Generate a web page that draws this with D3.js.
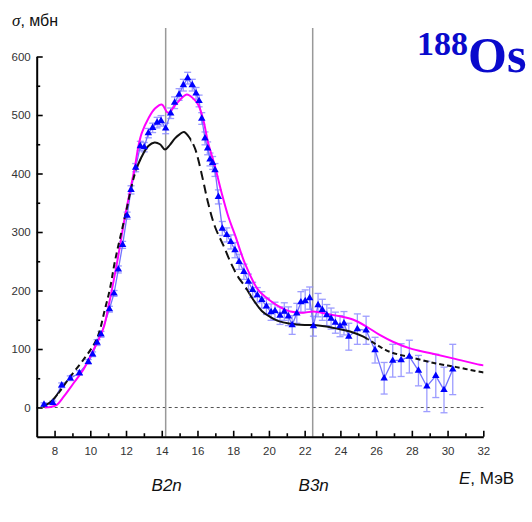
<!DOCTYPE html>
<html>
<head>
<meta charset="utf-8">
<script src="https://cdn.jsdelivr.net/npm/d3@7"></script>
<style>
  html, body { margin: 0; padding: 0; background: #fff; }
  svg { display: block; }
  .tick text { font-family: "Liberation Sans", Arial, sans-serif; font-size: 11.5px; fill: #333; }
</style>
</head>
<body>
<svg id="chart" width="532" height="522"></svg>
<script>
// Photoneutron cross section of 188Os: experimental points with uncertainties
const expEnergy = [7.41, 7.9, 8.4, 8.88, 9.39, 9.89, 10.13, 10.38, 10.6, 11.07, 11.33, 11.57, 11.81, 12.06,
  12.28, 12.54, 12.8, 13.02, 13.25, 13.49, 13.74, 13.96, 14.22, 14.5, 14.72, 14.97, 15.21, 15.45, 15.71,
  15.92, 16.09, 16.24, 16.42, 16.57, 16.7, 16.85, 16.98, 17.17, 17.39, 17.64, 17.87, 18.1, 18.33, 18.6,
  18.85, 19.09, 19.35, 19.6, 19.86, 20.12, 20.34, 20.62, 20.86, 21.09, 21.3, 21.56, 21.79, 22.03, 22.28,
  22.49, 22.75, 22.99, 23.24, 23.48, 23.72, 23.98, 24.2, 24.47, 24.95, 25.44, 25.94, 26.45, 26.93, 27.4,
  27.86, 28.37, 28.84, 29.34, 29.8, 30.29];
const expSigma = [5, 8, 38, 50, 59, 78, 91, 111, 125, 168, 195, 236, 278, 328,
  372, 410, 447, 445, 469, 478, 487, 490, 477, 503, 521, 535, 551, 563, 551,
  537, 524, 494, 460, 443, 424, 418, 406, 360, 306, 295, 283, 269, 249, 232,
  215, 201, 192, 184, 173, 163, 165, 157, 164, 156, 141, 161, 180, 182, 187,
  139, 175, 167, 158, 152, 145, 139, 144, 121, 134, 132, 98, 50, 80, 81,
  87, 63, 36, 54, 30, 65];
const expError = [3, 3, 4, 4, 4, 4, 4, 5, 5, 5, 5, 6, 6, 6,
  7, 7, 8, 8, 8, 8, 9, 9, 9, 9, 10, 10, 10, 10, 10,
  10, 10, 10, 11, 11, 11, 11, 11, 12, 12, 12, 12, 13, 13, 13,
  13, 13, 13, 14, 14, 14, 15, 15, 15, 16, 16, 17, 18, 19, 19,
  17, 20, 18, 18, 18, 18, 18, 20, 23, 26, 24, 22, 27, 28, 28,
  28, 26, 43, 37, 39, 43];

// Model curve (magenta)
const magentaEnergy = [7.45, 7.8, 8.1, 8.5, 9.05, 9.6, 10.17, 10.73, 11.0, 11.5, 11.94, 12.5, 12.69, 12.88,
  13.25, 13.62, 14.0, 14.35, 14.84, 15.4, 15.77, 16.05, 16.33, 16.6, 16.98, 17.36, 17.73, 18.1, 18.66,
  19.4, 20.06, 20.6, 21.2, 21.9, 22.5, 23.24, 23.98, 24.73, 25.48, 26.2, 26.97, 27.9, 29.0, 30.3, 31.8, 32.0];
const magentaSigma = [0, 1, 4, 18, 41, 64, 98, 135, 170, 248, 326, 412, 446, 469,
  494, 511, 518, 504, 520, 535, 528, 517, 491, 452, 412, 366, 326, 295, 246,
  201, 183, 172, 164, 162, 164, 160, 156, 150, 138, 124, 112, 101, 93, 84, 73, 72];

// Model curve (black)
const blackEnergy = [7.35, 7.8, 8.3, 8.86, 9.6, 10.36, 10.82, 11.1, 11.38, 11.94, 12.5, 12.88, 13.25, 13.6,
  13.9, 14.18, 14.46, 14.74, 15.0, 15.25, 15.58, 15.86, 16.05, 16.33, 16.6, 16.98, 17.45, 17.9, 18.3,
  18.66, 19.04, 19.6, 20.06, 20.5, 21.2, 22.0, 22.5, 23.1, 23.8, 24.54, 25.29, 26.04, 26.78, 27.9, 29.4,
  30.5, 31.8, 32.0];
const blackSigma = [2, 10, 28, 52, 81, 117, 168, 203, 250, 326, 400, 429, 447, 453,
  450, 441, 449, 460, 467, 471, 460, 443, 423, 386, 349, 309, 277, 245, 222,
  207, 188, 165, 155, 148, 143, 141, 141, 139, 135, 130, 121, 107, 95, 86, 75,
  69, 61, 60];

// Neutron separation thresholds
const thresholdLabels = ["B2n", "B3n"];
const thresholdEnergy = [14.22, 22.45];

// Axis ticks
const xMajorTicks = [8, 10, 12, 14, 16, 18, 20, 22, 24, 26, 28, 30, 32];
const xMinorTicks = [9, 11, 13, 15, 17, 19, 21, 23, 25, 27, 29, 31];
const yMajorTicks = [0, 100, 200, 300, 400, 500, 600];
const yMinorTicks = [50, 150, 250, 350, 450, 550];

const svg = d3.select("#chart");

const x = d3.scaleLinear().domain([7, 32]).range([36.7, 483.3]);
const y = d3.scaleLinear().domain([-50, 600]).range([436.75, 56.5]);

const expData = expEnergy.map((e, i) => ({ e, s: expSigma[i], err: expError[i] }));
const magentaData = magentaEnergy.map((e, i) => ({ e, s: magentaSigma[i] }));
const blackData = blackEnergy.map((e, i) => ({ e, s: blackSigma[i] }));

// zero reference line
svg.append("line")
  .attr("x1", x(7)).attr("x2", x(32))
  .attr("y1", y(0)).attr("y2", y(0))
  .attr("stroke", "#555").attr("stroke-width", 1)
  .attr("stroke-dasharray", "3,3");

// threshold lines
thresholdEnergy.forEach((e, i) => {
  svg.append("line")
    .attr("x1", x(e)).attr("x2", x(e))
    .attr("y1", 28).attr("y2", y(-50))
    .attr("stroke", "#999").attr("stroke-width", 1.5);
  svg.append("text")
    .attr("x", x(e) + 1).attr("y", 491)
    .attr("text-anchor", "middle")
    .attr("font-family", "Liberation Sans, Arial, sans-serif")
    .attr("font-style", "italic")
    .attr("font-size", 17)
    .attr("fill", "#111")
    .text(thresholdLabels[i]);
});

// error bars
const errG = svg.append("g")
  .attr("stroke", "#8c8cff").attr("stroke-width", 1.3).attr("opacity", 0.85);
expData.forEach(d => {
  const cx = x(d.e), yt = y(d.s + d.err), yb = y(d.s - d.err);
  errG.append("line").attr("x1", cx).attr("x2", cx).attr("y1", yt).attr("y2", yb);
  errG.append("line").attr("x1", cx - 3.5).attr("x2", cx + 3.5).attr("y1", yt).attr("y2", yt);
  errG.append("line").attr("x1", cx - 3.5).attr("x2", cx + 3.5).attr("y1", yb).attr("y2", yb);
});

// connecting line through the experimental points
svg.append("path")
  .datum(expData)
  .attr("fill", "none").attr("stroke", "#7272ff").attr("stroke-width", 1.3)
  .attr("d", d3.line().x(d => x(d.e)).y(d => y(d.s)));

const smooth = d3.line().x(d => x(d.e)).y(d => y(d.s)).curve(d3.curveCatmullRom.alpha(0.5));

// magenta model curve
svg.append("path")
  .datum(magentaData)
  .attr("fill", "none").attr("stroke", "#ff00ff").attr("stroke-width", 2)
  .attr("d", smooth);

// black model curve, drawn piecewise with changing dash pattern
const blackStyles = [
  { from: 7.0, to: 8.2, dash: null },
  { from: 8.2, to: 12.6, dash: "6,4" },
  { from: 12.6, to: 15.65, dash: null },
  { from: 15.65, to: 18.9, dash: "9,5" },
  { from: 18.9, to: 25.5, dash: null },
  { from: 25.5, to: 32.5, dash: "5,3" }
];
const defs = svg.append("defs");
blackStyles.forEach((st, i) => {
  defs.append("clipPath").attr("id", "bclip" + i)
    .append("rect")
    .attr("x", x(st.from)).attr("width", x(st.to) - x(st.from))
    .attr("y", 0).attr("height", 522);
  svg.append("path")
    .datum(blackData)
    .attr("clip-path", `url(#bclip${i})`)
    .attr("fill", "none").attr("stroke", "#111").attr("stroke-width", 2)
    .attr("stroke-dasharray", st.dash)
    .attr("d", smooth);
});

// experimental points
svg.append("g").selectAll("path")
  .data(expData).join("path")
  .attr("transform", d => `translate(${x(d.e)},${y(d.s)})`)
  .attr("d", d3.symbol(d3.symbolTriangle, 24))
  .attr("fill", "#0000ff");

// axes
const yAxis = svg.append("g")
  .attr("transform", `translate(${x(7)},0)`)
  .call(d3.axisLeft(y).tickValues(yMajorTicks).tickSize(-6).tickSizeOuter(0).tickPadding(6));
svg.append("g")
  .attr("transform", `translate(${x(7)},0)`)
  .call(d3.axisLeft(y).tickValues(yMinorTicks).tickSize(-3.5).tickSizeOuter(0).tickFormat(""))
  .select(".domain").remove();

const xAxis = svg.append("g")
  .attr("transform", `translate(0,${y(-50)})`)
  .call(d3.axisBottom(x).tickValues(xMajorTicks).tickSize(-6).tickSizeOuter(0).tickPadding(10));
svg.append("g")
  .attr("transform", `translate(0,${y(-50)})`)
  .call(d3.axisBottom(x).tickValues(xMinorTicks).tickSize(-3.5).tickSizeOuter(0).tickFormat(""))
  .select(".domain").remove();

svg.selectAll(".domain").attr("stroke", "#000").attr("stroke-width", 2);
svg.selectAll(".tick line").attr("stroke", "#000").attr("stroke-width", 1.6);

// axis titles
const yTitle = svg.append("text").attr("x", 12).attr("y", 26).attr("fill", "#111");
yTitle.append("tspan").attr("font-family", "Liberation Serif, serif").attr("font-style", "italic")
  .attr("font-size", 17).text("σ");
yTitle.append("tspan").attr("font-family", "Liberation Sans, Arial, sans-serif")
  .attr("font-size", 16).text(", мбн");

const xTitle = svg.append("text").attr("x", 459).attr("y", 484).attr("fill", "#111");
xTitle.append("tspan").attr("font-family", "Liberation Sans, Arial, sans-serif").attr("font-style", "italic")
  .attr("font-size", 17).text("E");
xTitle.append("tspan").attr("font-family", "Liberation Sans, Arial, sans-serif")
  .attr("font-size", 17).text(", МэВ");

// nucleus label
const nuc = svg.append("text").attr("x", 417).attr("y", 55)
  .attr("font-family", "Liberation Serif, 'Times New Roman', serif")
  .attr("font-weight", "bold").attr("fill", "#0a0acc");
nuc.append("tspan").attr("font-size", 34).text("188");
nuc.append("tspan").attr("font-size", 50).attr("dy", 17).text("Os");
</script>
</body>
</html>
